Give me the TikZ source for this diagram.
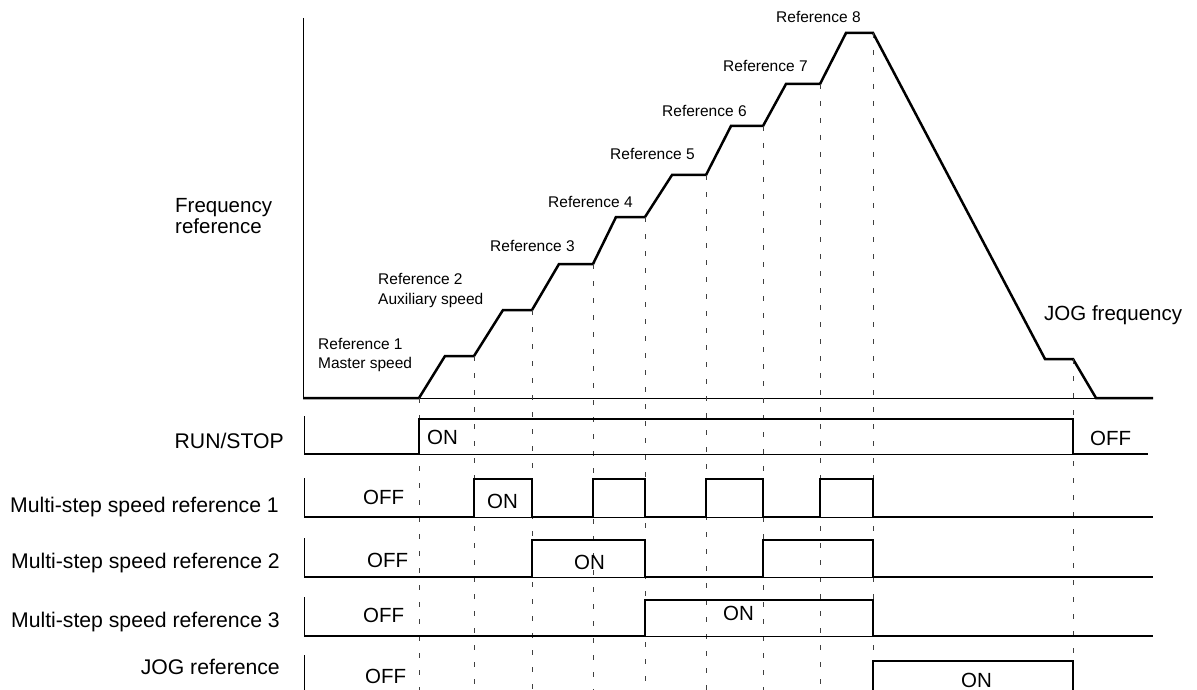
\documentclass[tikz,border=0pt]{standalone}
\usepackage{fontspec}
\setmainfont{Liberation Sans}
\begin{document}
\begin{tikzpicture}[x=1pt,y=-1pt,
  big/.style={font=\fontsize{20.5}{21}\selectfont, inner sep=0pt},
  rowlabel/.style={font=\fontsize{21.2}{22}\selectfont, inner sep=0pt, anchor=base east},
  small/.style={font=\fontsize{15.5}{19}\selectfont, inner sep=0pt},
  sig/.style={line width=2.5pt, line join=miter},
  axisline/.style={line width=1pt},
  guide/.style={line width=0.9pt, dash pattern=on 5pt off 12pt, black!75}]
\useasboundingbox (0,0) rectangle (1197,690);
\clip (0,0) rectangle (1197,690);

% ---------- frequency graph ----------
\draw[axisline] (303,18) -- (303,398) -- (1153,398);
\draw[sig] (303,398) -- (419,398) -- (445,356) -- (474,356) -- (503,310) -- (532,310)
  -- (559,264) -- (593,264) -- (616,217) -- (645,217) -- (672,175) -- (706,175)
  -- (731,126) -- (763,126) -- (786,84) -- (820,84) -- (846,33) -- (873,33)
  -- (1045,359) -- (1073,359) -- (1096,398) -- (1153,398);

% ---------- guide lines ----------
\draw[guide] (419,398) -- (419,695);
\draw[guide] (474,356) -- (474,695);
\draw[guide] (532,310) -- (532,695);
\draw[guide] (593,264) -- (593,695);
\draw[guide] (645,217) -- (645,695);
\draw[guide] (706,175) -- (706,695);
\draw[guide] (763,126) -- (763,695);
\draw[guide] (820,84) -- (820,695);
\draw[guide] (873,33) -- (873,695);
\draw[guide] (1073,359) -- (1073,695);

% ---------- labels of frequency graph ----------
\node[big, anchor=base west] (fr1) at (175,212) {Frequency};
\node[big, anchor=base west] (fr2) at (175,233) {reference};
\node[small, anchor=base west] (r1a) at (318,349) {Reference 1};
\node[small, anchor=base west] (r1b) at (318,368) {Master speed};
\node[small, anchor=base west] (r2a) at (378,284) {Reference 2};
\node[small, anchor=base west] (r2b) at (378,304) {Auxiliary speed};
\node[small, anchor=base west] (r3) at (490,251) {Reference 3};
\node[small, anchor=base west] (r4) at (548,207) {Reference 4};
\node[small, anchor=base west] (r5) at (610,160) {Reference 5};
\node[small, anchor=base west] (r6) at (662,117) {Reference 6};
\node[small, anchor=base west] (r7) at (723,72) {Reference 7};
\node[small, anchor=base west] (r8) at (776,23) {Reference 8};
\node[big, anchor=base west] (jogf) at (1044,320) {JOG frequency};

% ---------- RUN/STOP ----------
\draw[axisline] (304,416) -- (304,454) -- (1148,454);
\draw[sig] (304,454) -- (419,454) -- (419,419) -- (1073,419) -- (1073,454) -- (1148,454);
\node[rowlabel] (runl) at (284,448) {RUN/STOP};
\node[big, anchor=base west] (runon) at (427,444) {ON};
\node[big, anchor=base west] (runoff) at (1090,445) {OFF};

% ---------- Multi-step speed reference 1 ----------
\draw[axisline] (304,478) -- (304,517) -- (1153,517);
\draw[sig] (304,517) -- (474,517) -- (474,479) -- (532,479) -- (532,517) -- (593,517)
  -- (593,479) -- (645,479) -- (645,517) -- (706,517) -- (706,479) -- (763,479)
  -- (763,517) -- (820,517) -- (820,479) -- (873,479) -- (873,517) -- (1153,517);
\node[rowlabel] (m1l) at (279,512) {Multi-step speed reference 1};
\node[big, anchor=base west] (m1off) at (363,504) {OFF};
\node[big, anchor=base west] (m1on) at (487,508) {ON};

% ---------- Multi-step speed reference 2 ----------
\draw[axisline] (304,538) -- (304,577) -- (1153,577);
\draw[sig] (304,577) -- (532,577) -- (532,540) -- (645,540) -- (645,577) -- (763,577)
  -- (763,540) -- (873,540) -- (873,577) -- (1153,577);
\node[rowlabel] (m2l) at (280,568) {Multi-step speed reference 2};
\node[big, anchor=base west] (m2off) at (367,567) {OFF};
\node[big, anchor=base west] (m2on) at (574,569) {ON};

% ---------- Multi-step speed reference 3 ----------
\draw[axisline] (304,597) -- (304,636) -- (1153,636);
\draw[sig] (304,636) -- (645,636) -- (645,600) -- (873,600) -- (873,636) -- (1153,636);
\node[rowlabel] (m3l) at (280,627) {Multi-step speed reference 3};
\node[big, anchor=base west] (m3off) at (363,622) {OFF};
\node[big, anchor=base west] (m3on) at (723,620) {ON};

% ---------- JOG reference ----------
\draw[axisline] (304,655) -- (304,698) -- (1153,698);
\draw[sig] (304,698) -- (873,698) -- (873,661) -- (1073,661) -- (1073,698) -- (1153,698);
\node[rowlabel] (jogl) at (280,674) {JOG reference};
\node[big, anchor=base west] (jogoff) at (365,683) {OFF};
\node[big, anchor=base west] (jogon) at (961,687) {ON};
\end{tikzpicture}
\end{document}
